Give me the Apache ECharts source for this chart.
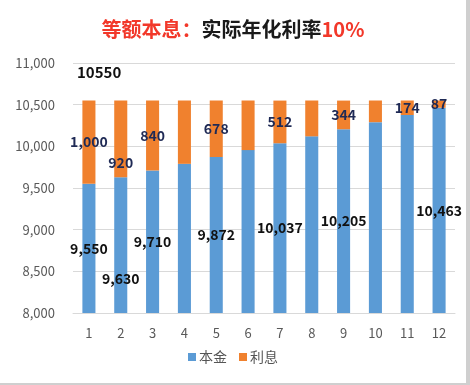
<!DOCTYPE html>
<html>
<head>
<meta charset="utf-8">
<script src="https://cdn.jsdelivr.net/npm/echarts@6/dist/echarts.min.js"></script>
<style>
html,body{margin:0;padding:0;background:#cfcfcf;}
#c{width:466px;height:383px;background:#fff;}
</style>
</head>
<body>
<div id="c"></div>
<script>
const categories = ['1','2','3','4','5','6','7','8','9','10','11','12'];
const principal = [9550, 9630, 9710, 9790, 9872, 9955, 10037, 10120, 10205, 10290, 10376, 10463];
const interest  = [1000, 920, 840, 760, 678, 595, 512, 430, 344, 260, 174, 87];
const showPrincipalLabel = [true, true, true, false, true, false, true, false, true, false, false, true];
const showInterestLabel  = [true, true, true, false, true, false, true, false, true, false, true, true];
const totalText = '10550';

const FONT = '"Noto Sans CJK SC", "Noto Sans", sans-serif';

function labelFor(i, show, color) {
  const lab = { show: show, position: 'inside', color: color, fontWeight: 'bold', fontSize: 14, fontFamily: FONT };
  if (i === 1) lab.offset = [0, color === '#111' ? 34 : 24];
  return lab;
}

const chart = echarts.init(document.getElementById('c'));
chart.setOption({
  backgroundColor: '#ffffff',
  animation: false,
  title: {
    text: '{r|等额本息：}{k|实际年化利率}{r|10%}',
    left: 'center',
    top: 14,
    textStyle: {
      rich: {
        r: { color: '#f2382a', fontSize: 20, fontWeight: 'bold', fontFamily: FONT },
        k: { color: '#1a1a1a', fontSize: 20, fontWeight: 'bold', fontFamily: FONT }
      }
    }
  },
  graphic: [{
    type: 'text', left: 77, top: 65,
    style: { text: totalText, fill: '#111', font: 'bold 15px ' + FONT }
  }],
  legend: {
    data: ['本金', '利息'],
    bottom: 14,
    left: 'center',
    itemWidth: 8, itemHeight: 8, itemGap: 12,
    icon: 'rect',
    textStyle: { color: '#555', fontSize: 14, fontFamily: FONT, padding: [0, 0, 0, -2] }
  },
  grid: { left: 73, right: 11, top: 63, bottom: 70 },
  xAxis: {
    type: 'category',
    data: categories,
    axisLine: { lineStyle: { color: '#d9d9d9' } },
    axisTick: { show: false },
    axisLabel: { color: '#595959', fontSize: 13, fontFamily: FONT, margin: 14 }
  },
  yAxis: {
    type: 'value',
    min: 8000, max: 11000, interval: 500,
    axisLine: { show: false },
    axisTick: { show: false },
    splitLine: { lineStyle: { color: '#d9d9d9' } },
    axisLabel: {
      color: '#595959', fontSize: 13, fontFamily: FONT, margin: 18,
      formatter: v => v.toLocaleString('en-US')
    }
  },
  series: [
    {
      name: '本金', type: 'bar', stack: 'total', barWidth: '41%',
      itemStyle: { color: '#5b9bd5' },
      data: principal.map((v, i) => ({
        value: v,
        label: Object.assign(labelFor(i, showPrincipalLabel[i], '#111'), {
          formatter: p => p.value.toLocaleString('en-US')
        })
      }))
    },
    {
      name: '利息', type: 'bar', stack: 'total', barWidth: '41%',
      itemStyle: { color: '#f0812e' },
      data: interest.map((v, i) => ({
        value: v,
        label: Object.assign(labelFor(i, showInterestLabel[i], '#1f2a55'), {
          formatter: p => p.value.toLocaleString('en-US')
        })
      }))
    }
  ]
});
</script>
</body>
</html>
